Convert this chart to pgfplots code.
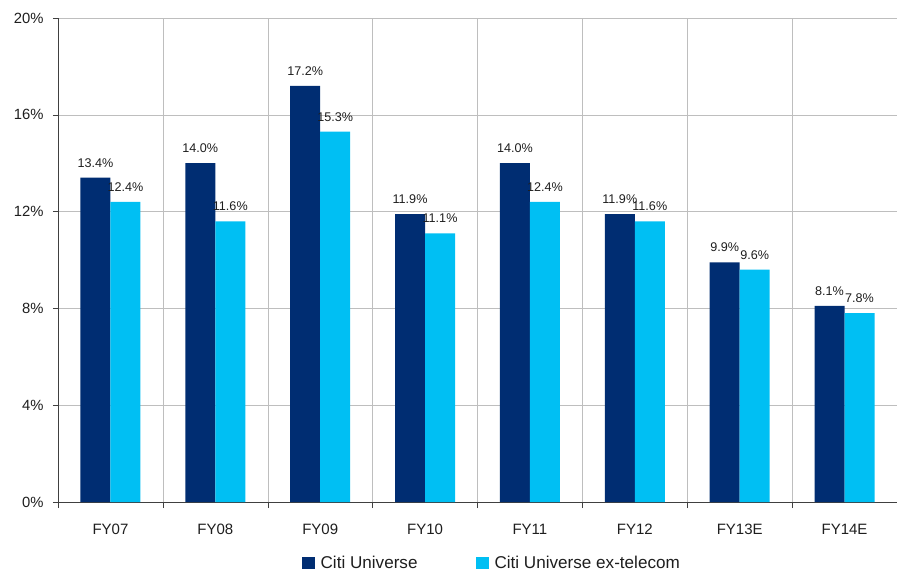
\documentclass[border=0pt]{standalone}
\usepackage{fontspec}
\setmainfont{Liberation Sans}
\usepackage{pgfplots}
\pgfplotsset{compat=1.18}

\definecolor{citinavy}{RGB}{0,45,114}
\definecolor{citicyan}{RGB}{0,191,243}
\definecolor{gridgray}{RGB}{190,190,190}
\definecolor{txt}{RGB}{30,30,30}

\begin{document}
\begin{tikzpicture}
\begin{axis}[
  scale only axis,
  width=839pt, height=484pt,
  at={(0,0)}, anchor=south west,
  /pgf/number format/assume math mode=true,
  ybar=0pt, bar width=30pt,
  xmin=-0.5, xmax=7.5,
  ymin=0, ymax=20,
  xtick={0,...,7},
  xticklabels={FY07,FY08,FY09,FY10,FY11,FY12,FY13E,FY14E},
  major x tick style={draw=none},
  minor xtick={-0.5,0.5,...,7.5},
  minor x tick style={draw=black!75, thin},
  minor tick length=6pt,
  xminorgrids,
  minor x grid style={gridgray, thin},
  ytick={0,4,...,20},
  yticklabel={\pgfmathprintnumber{\tick}\%},
  ymajorgrids,
  major y grid style={gridgray, thin},
  major tick length=5pt,
  tick align=outside,
  y tick style={draw=black!75, thin},
  axis x line*=bottom,
  axis y line*=left,
  axis line style={-, draw=black!75, thin},
  ticklabel style={font=\fontsize{14.8}{16}\selectfont, text=txt},
  xticklabel style={font=\fontsize{15}{17}\selectfont, yshift=-13.5pt},
  yticklabel style={xshift=-6pt},
  nodes near coords={\pgfmathprintnumber[fixed,fixed zerofill,precision=1]{\pgfplotspointmeta}\%},
  every node near coord/.append style={font=\fontsize{12.6}{14}\selectfont, text=txt, yshift=7pt},
  legend columns=2,
  legend style={at={(0.517,-0.126)}, anchor=center, draw=none, fill=none,
    font=\fontsize{17.1}{19}\selectfont, text=txt,
    nodes={inner xsep=2pt},
    /tikz/every even column/.append style={column sep=56pt}},
  legend cell align=left,
]
\addplot[fill=citinavy, draw=none,
  legend image code/.code={\fill[citinavy] (0pt,-6pt) rectangle (13.5pt,6pt); \path (17pt,0pt);}]
  coordinates {(0,13.4) (1,14.0) (2,17.2) (3,11.9) (4,14.0) (5,11.9) (6,9.9) (7,8.1)};
\addplot[fill=citicyan, draw=none,
  legend image code/.code={\fill[citicyan] (0pt,-6pt) rectangle (13.5pt,6pt); \path (17pt,0pt);}]
  coordinates {(0,12.4) (1,11.6) (2,15.3) (3,11.1) (4,12.4) (5,11.6) (6,9.6) (7,7.8)};
\legend{Citi Universe, Citi Universe ex-telecom}
\end{axis}
\pgfresetboundingbox
\path (-58pt,-71pt) rectangle (839pt,502pt);
\end{tikzpicture}
\end{document}
